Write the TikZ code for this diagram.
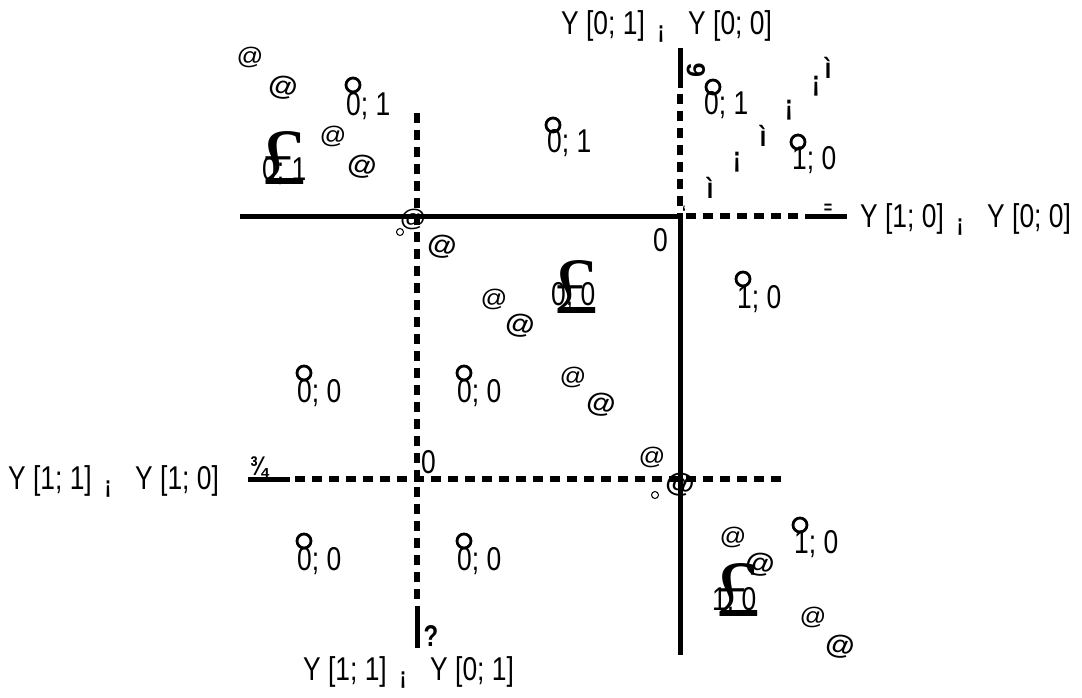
\documentclass[tikz,border=0pt]{standalone}
\usepackage{graphicx}
\usepackage{fontspec}
\setmainfont{Liberation Sans}[FakeStretch=0.8]
\newfontfamily\atfont{Liberation Sans}[FakeStretch=1.1]
\newfontfamily\serifglyph{Liberation Serif}
\newfontfamily\plainsans{Liberation Sans}
\newcommand{\ylab}[2]{Y [#1]\hspace{13pt}\raisebox{-4pt}{\fontsize{24}{24}\selectfont\bfseries ¡}\hspace{24pt}Y [#2]}
\tikzset{
  lbl/.style={font=\fontsize{33}{33}\selectfont, inner sep=0pt, anchor=base west},
  solidline/.style={line width=5pt},
  dashline/.style={line width=6pt, dash pattern=on 10pt off 7pt},
  ring/.style={line width=2.8pt},
  smallring/.style={line width=1pt},
  bigf/.style={font=\serifglyph\fontsize{80}{80}\selectfont, inner sep=0pt, anchor=base},
  atsmall/.style={font=\atfont\fontsize{24}{24}\selectfont, inner sep=0pt},
  atbold/.style={font=\atfont\fontsize{27}{27}\selectfont\bfseries, inner sep=0pt},
  tickglyph/.style={font=\fontsize{29}{29}\selectfont\bfseries, inner sep=0pt},
}
\begin{document}
\begin{tikzpicture}[x=1pt,y=-1pt]
\useasboundingbox (0,0) rectangle (1082,698);
% coordinates
\coordinate (h1a) at (240,216);
\coordinate (X1) at (680,216);
\coordinate (h1b) at (805,216);
\coordinate (h1c) at (847,216);
\coordinate (v1top) at (680,48);
\coordinate (v1d) at (680,88);
\coordinate (v1bot) at (680,655);
\coordinate (v2top) at (417,113);
\coordinate (v2s) at (417,606);
\coordinate (v2bot) at (417,648);
\coordinate (h2a) at (248,479);
\coordinate (h2b) at (290,479);
\coordinate (h2c) at (784,479);
% lines
\draw[solidline] (h1a) -- (X1);
\draw[dashline] (X1) ++(6,0) -- (h1b);
\draw[solidline] (h1b) -- (h1c);
\draw[solidline] (v1top) -- (v1d);
\draw[dashline] (v1d) ++(0,6) -- (X1);
\draw[solidline] (X1) -- (v1bot);
\draw[dashline] (v2top) -- (v2s);
\draw[solidline] (v2s) -- (v2bot);
\draw[solidline] (h2a) -- (h2b);
\draw[dashline] (h2b) ++(5,0) -- (h2c);
% axis labels
\node[lbl] (yt) at (561,35) {\ylab{0; 1}{0; 0}};
\node[lbl] (yr) at (860,227) {\ylab{1; 0}{0; 0}};
\node[lbl] (yl) at (8,489) {\ylab{1; 1}{1; 0}};
\node[lbl] (yb) at (303,680) {\ylab{1; 1}{0; 1}};
\node[lbl] (z1) at (653,251) {0};
\node[lbl] (z2) at (421,473) {0};
% payoff labels with rings
\foreach \cx/\cy/\tx/\ty/\t [count=\i] in {353/85/346/116/{0; 1}, 553/125/547/153/{0; 1}, 713/87/704/115/{0; 1}, 798/142/792/170/{1; 0}, 743/279/737/308/{1; 0}, 304/373/297/402/{0; 0}, 464/373/457/402/{0; 0}, 304/541/297/570/{0; 0}, 464/541/457/570/{0; 0}, 800/525/794/553/{1; 0}}
{
  \node[lbl] (p\i) at (\tx,\ty) {\t};
  \draw[ring] (\cx,\cy) circle[radius=7pt];
}
% big glyphs
\node[bigf] (f1) at (283,185) {\scalebox{1.15}[1]{£}};
\node[lbl] (f1t) at (262,180) {0; 1};
\node[bigf] (f2) at (575,313) {\scalebox{1.15}[1]{£}};
\node[lbl] (f2t) at (551,305) {0; 0};
\node[bigf] (f3) at (737,616) {\scalebox{1.15}[1]{£}};
\node[lbl] (f3t) at (712,610) {1; 0};
% diagonal @ marks
\foreach \x/\y [count=\i] in {250/57, 333/136, 413/219, 494/299, 573/377, 652/457, 733/537, 813/617}
  \node[atsmall] (as\i) at (\x,\y) {@};
\foreach \x/\y [count=\i] in {283/88, 362/167, 442/247, 520/326, 601/405, 680/485, 760/565, 840/647}
  \node[atbold, rotate=-10] (ab\i) at (\x,\y) {@};
\draw[smallring] (400,232) circle[radius=3.5pt];
\draw[smallring] (655,495) circle[radius=3.5pt];
% diagonal i marks
\foreach \x/\y/\g [count=\i] in {828/68/ì, 816/86/¡, 789/110/¡, 763/136/ì, 737/162/¡, 710/188/ì}
  \node[tickglyph] (t\i) at (\x,\y) {\g};
\node[font=\fontsize{18}{18}\selectfont\bfseries, inner sep=0pt] (tk) at (684,212) {`};
% arrowhead glyphs
\node[font=\plainsans\fontsize{26}{26}\selectfont\bfseries, inner sep=0pt] (g6) at (696,70) {\rotatebox{90}{6}};
\node[font=\fontsize{30}{30}\selectfont\bfseries, inner sep=0pt] (gq) at (431,636) {?};
\node[font=\fontsize{27}{27}\selectfont\bfseries, inner sep=0pt] (g34) at (259,467) {¾};
\node[font=\fontsize{18}{18}\selectfont\bfseries, inner sep=0pt] (geq) at (828,209) {=};
\end{tikzpicture}
\end{document}
